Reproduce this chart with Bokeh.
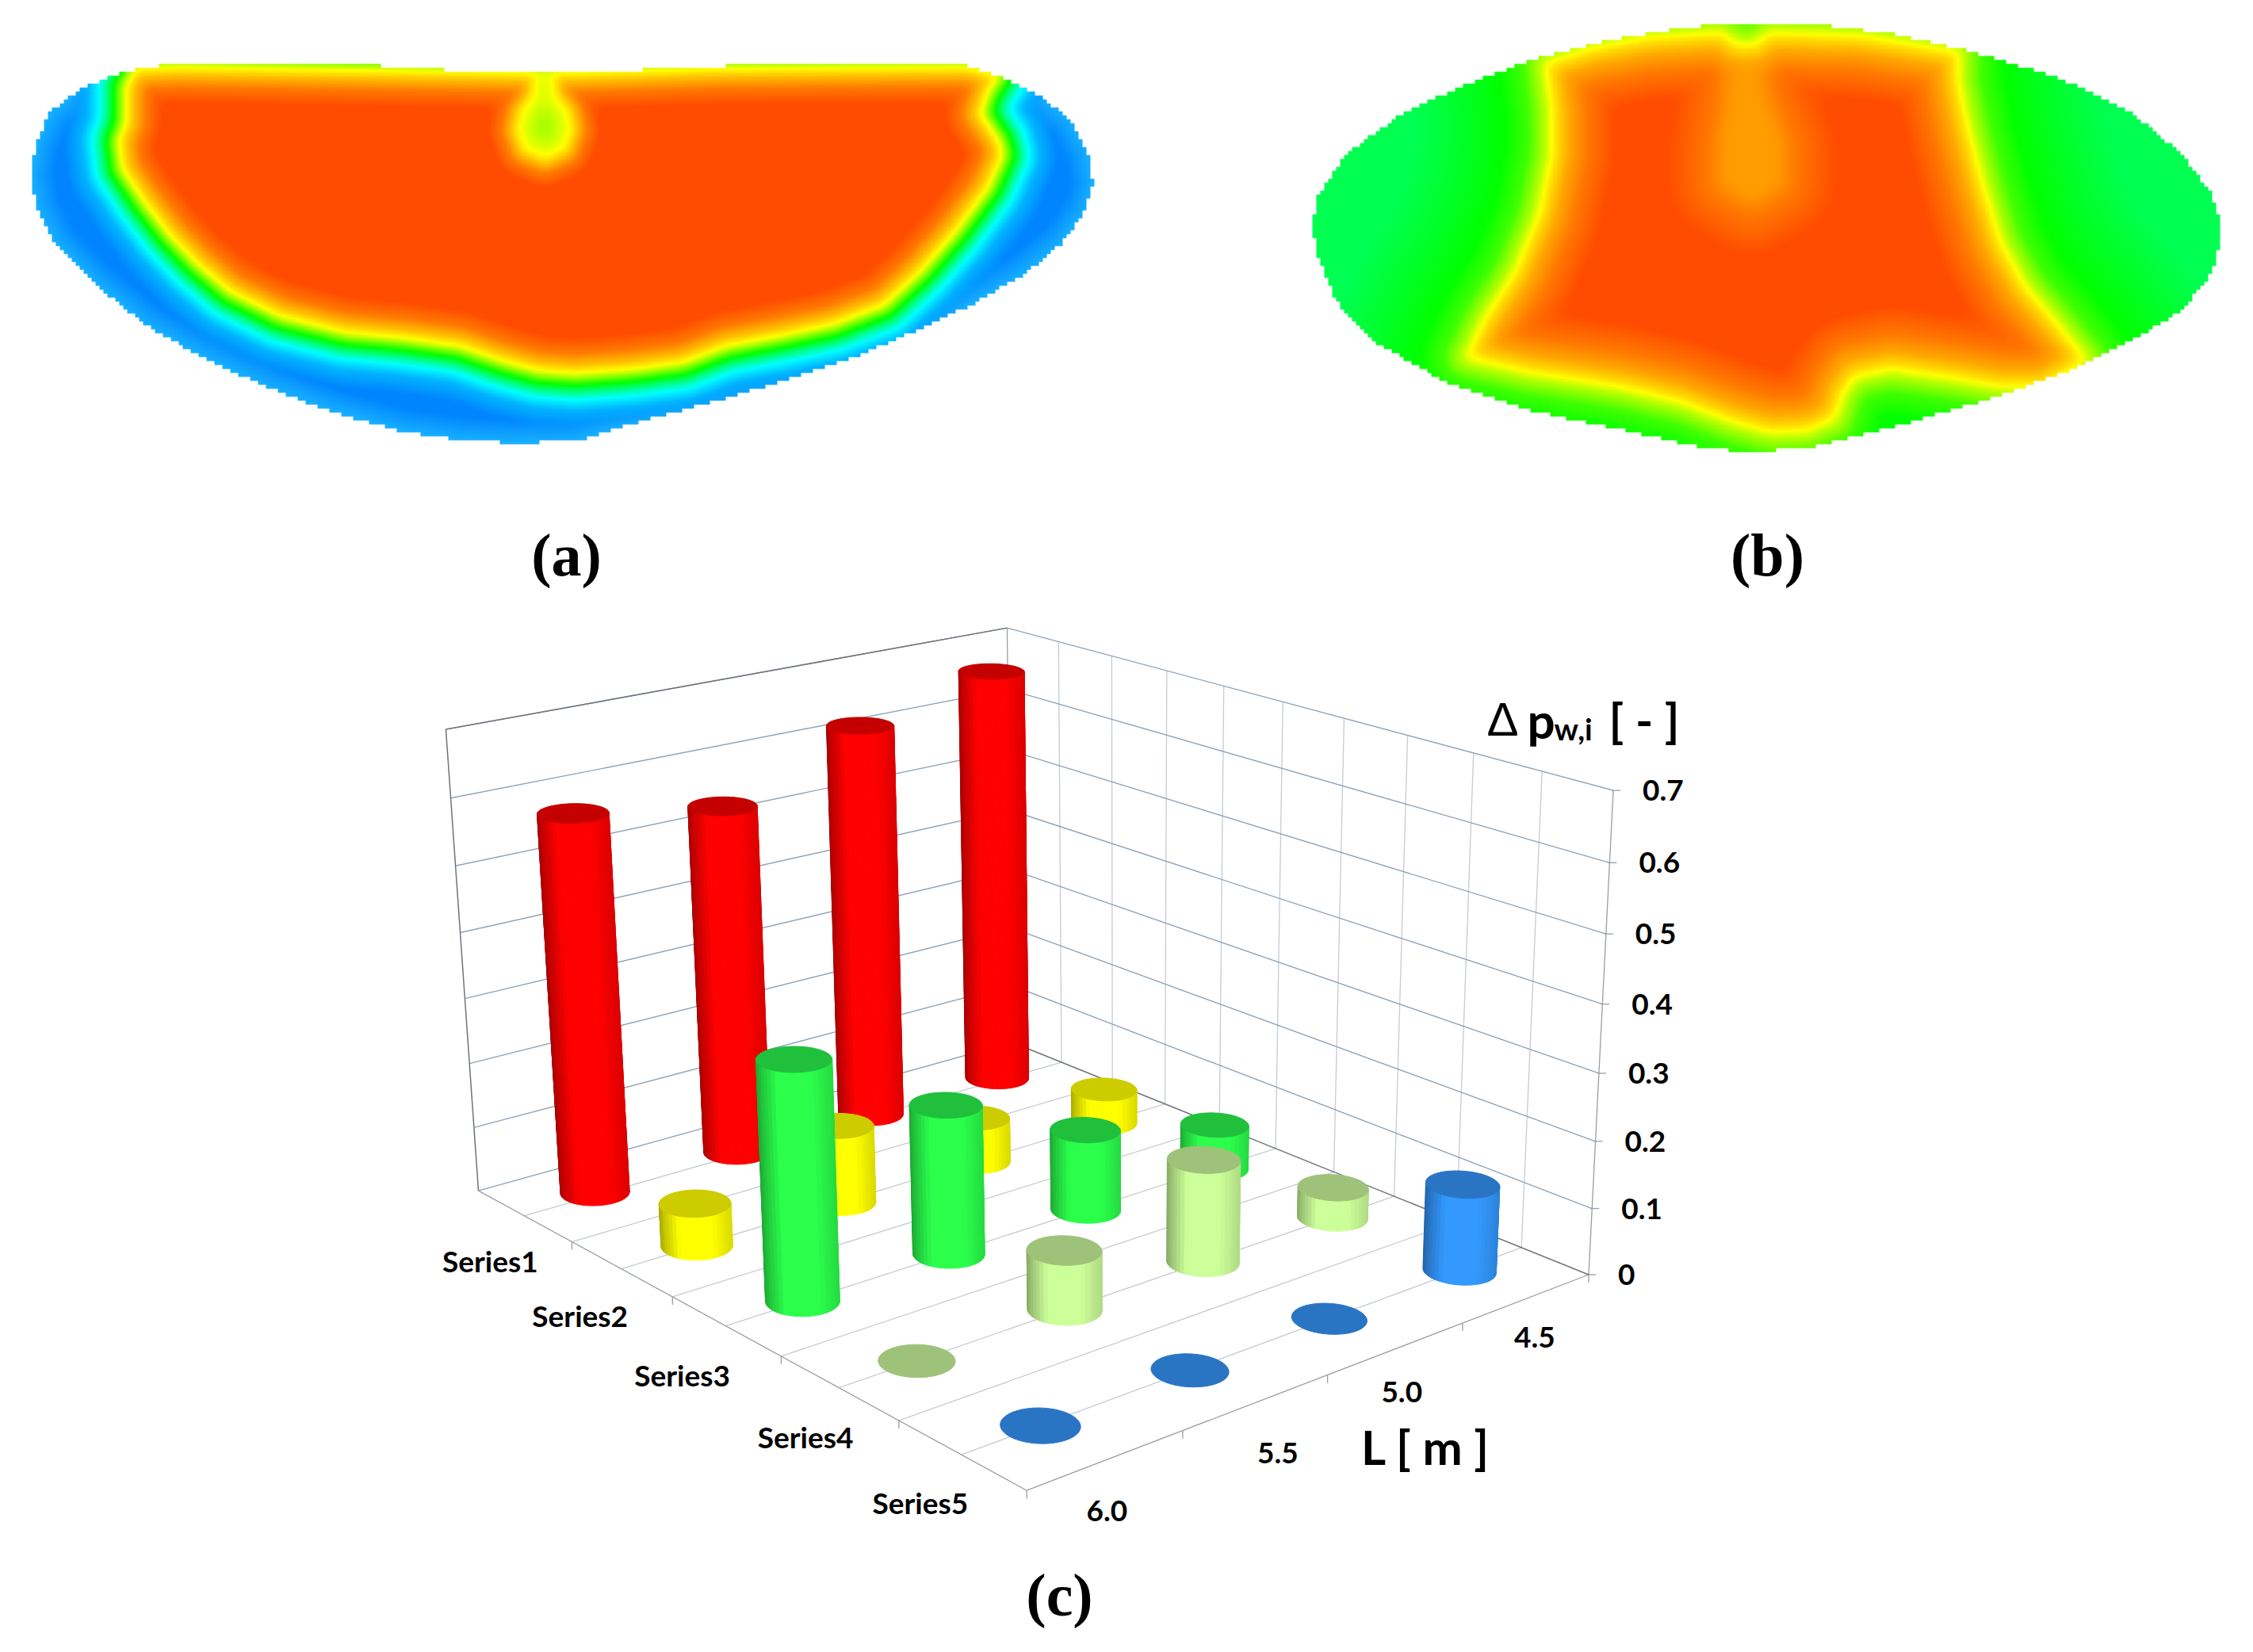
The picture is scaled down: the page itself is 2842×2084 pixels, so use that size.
import numpy as np
from bokeh.plotting import figure
from bokeh.models import ColumnDataSource
from bokeh.core.properties import value
from bokeh.embed import file_html
from bokeh.resources import INLINE

# ---------- chart values ----------
series_names = ["Series1", "Series2", "Series3", "Series4", "Series5"]
length_labels = ["6.0", "5.5", "5.0", "4.5"]
value_ticks = [0, 0.1, 0.2, 0.3, 0.4, 0.5, 0.6, 0.7]
value_tick_labels = ["0", "0.1", "0.2", "0.3", "0.4", "0.5", "0.6", "0.7"]
series1 = [0.58, 0.545, 0.625, 0.67]
series2 = [0.065, 0.12, 0.07, 0.055]
series3 = [0.352, 0.225, 0.125, 0.07]
series4 = [0.0, 0.088, 0.155, 0.047]
series5 = [0.0, 0.0, 0.0, 0.13]

# heat-map shapes (a): traced outline, yellow iso-line and central spot
a_outline = [(235,118),(500,118),(590,135),(730,150),(800,150),(1000,125),(1100,110),(1295,112),(1345,122),(1400,170),(1450,235),(1490,320),(1515,440),(1522,560),(1510,660),(1480,770),(1430,880),(1360,990),(1280,1090),(1190,1190),(1100,1270),(1000,1350),(900,1420),(800,1500),(710,1505),(640,1495),(560,1465),(460,1390),(370,1300),(280,1190),(200,1070),(130,920),(75,770),(50,640),(42,520),(50,400),(70,290),(110,210),(170,145)]
a_yellow = [(190,135),(250,130),(600,145),(730,150),(800,150),(1000,135),(1345,130),(1390,160),(1375,220),(1365,300),(1390,400),(1395,450),(1375,570),(1330,730),(1280,880),(1230,1000),(1160,1070),(1090,1110),(1010,1150),(950,1210),(880,1235),(800,1250),(750,1240),(700,1205),(640,1150),(560,1120),(480,1100),(390,1040),(320,950),(275,850),(235,740),(200,620),(170,500),(165,400),(175,330),(175,200)]
a_spot = [(745,150),(770,150),(772,235),(790,290),(795,360),(785,430),(758,462),(730,430),(720,360),(726,290),(742,235)]

# heat-map shapes (b)
b_outline = [(720,52),(865,52),(1000,85),(1130,145),(1280,240),(1400,360),(1480,500),(1530,640),(1545,760),(1530,900),(1480,1030),(1400,1130),(1290,1240),(1150,1340),(1000,1430),(860,1500),(760,1515),(680,1495),(560,1440),(400,1370),(270,1280),(150,1140),(85,1000),(55,850),(45,750),(55,640),(100,500),(200,350),(300,260),(400,180),(530,110),(650,70)]
b_yellow = [(430,190),(500,140),(600,100),(720,85),(745,125),(775,125),(800,85),(950,95),(1110,150),(1110,250),(1125,400),(1150,600),(1180,800),(1220,950),(1270,1070),(1320,1200),(1250,1290),(1180,1290),(1100,1260),(1000,1230),(940,1255),(920,1310),(905,1400),(860,1440),(800,1445),(740,1410),(650,1340),(550,1290),(400,1240),(300,1190),(330,1060),(380,900),(420,700),(440,500),(440,350)]
b_blob = [(748,130),(772,130),(780,300),(810,470),(810,590),(770,640),(730,590),(730,470),(742,300)]

# ---------- page ----------
W, H = 2826, 2064
p = figure(width=W, height=H, x_range=(0, W), y_range=(2084 - H, 2084),
           x_axis_type=None, y_axis_type=None, toolbar_location=None,
           output_backend="svg", min_border=0, outline_line_color=None)
p.grid.visible = False
fy = lambda y: 2084 - np.asarray(y, dtype=float)


def hexrgb(h):
    return np.array([int(h[i:i + 2], 16) for i in (1, 3, 5)], dtype=float)


def zoom_a(pts):
    a = np.array(pts, dtype=float)
    return np.c_[a[:, 0] * 1420 / 1568, 40 + a[:, 1] * 540 / 1568]


def zoom_b(pts):
    a = np.array(pts, dtype=float)
    return np.c_[1620 + a[:, 0] * 1200 / 1568, 10 + a[:, 1] * 580 / 1568]


def inside(poly, X, Y):
    res = np.zeros(X.shape, dtype=bool)
    n = len(poly)
    for i in range(n):
        x1, y1 = poly[i]
        x2, y2 = poly[(i + 1) % n]
        if y1 == y2:
            continue
        c = ((y1 > Y) != (y2 > Y)) & (X < (x2 - x1) * (Y - y1) / (y2 - y1) + x1)
        res ^= c
    return res


def signed(poly, X, Y):
    best = np.full(X.shape, 1e12)
    n = len(poly)
    for i in range(n):
        ax, ay = poly[i]
        bx, by = poly[(i + 1) % n]
        dx, dy = bx - ax, by - ay
        t = np.clip(((X - ax) * dx + (Y - ay) * dy) / (dx * dx + dy * dy), 0, 1)
        best = np.minimum(best, (X - ax - t * dx) ** 2 + (Y - ay - t * dy) ** 2)
    d = np.sqrt(best)
    return np.where(inside(poly, X, Y), d, -d)


def blur(a, k=2):
    b = a.copy()
    for axis in (0, 1):
        acc = np.zeros_like(b)
        for s in range(-k, k + 1):
            acc += np.roll(b, s, axis=axis)
        b = acc / (2 * k + 1)
    return b


def ramp(d, stops):
    xs = [s[0] for s in stops]
    cols = np.array([hexrgb(s[1]) for s in stops])
    return np.dstack([np.interp(d, xs, cols[:, c]) for c in range(3)])


def paint(rgb, mask, x0, y0, step):
    h, w = mask.shape
    c = np.clip(rgb, 0, 255).astype(np.uint32)
    im = (c[..., 0] | (c[..., 1] << 8) | (c[..., 2] << 16) | (np.uint32(255) << 24))
    im = np.where(mask, im, 0).astype(np.uint32)
    # row 0 is the lowest row on the page
    p.image_rgba(image=[im[::-1]], x=[x0], y=[float(fy(y0 + h * step))], dw=[w * step], dh=[h * step])


STEP, BLOCK = 2.5, 5

# ---- map (a)
x0, y0 = 30, 70
xs = x0 + (np.arange(546) + 0.5) * STEP
ys = y0 + (np.arange(202) + 0.5) * STEP
X, Y = np.meshgrid(xs, ys)
Xb = np.floor(X / BLOCK) * BLOCK + BLOCK / 2
Yb = np.floor(Y / BLOCK) * BLOCK + BLOCK / 2
out = zoom_a(a_outline)
mask = inside(out, Xb, Yb)
d = signed(zoom_a(a_yellow), X, Y)
ds = signed(zoom_a(a_spot), X, Y)
d = np.minimum(d, np.where(ds > 0, -ds * 0.2, -ds * 1.2))
d = blur(d, 3)
rgb = ramp(d, [(-200, "#0080ff"), (-70, "#0086ff"), (-48, "#00b4ff"), (-34, "#00ffff"), (-24, "#00ff80"),
               (-16, "#00ff00"), (-8, "#80ff00"), (0, "#ffff00"), (10, "#ffc000"), (25, "#ff7a00"), (45, "#ff4c00"), (400, "#ff4c00")])
dout = signed(out, X, Y)
t = (np.clip(1 - dout / 30, 0, 1) * np.clip((-d - 50) / 20, 0, 1))[..., None]
rgb = rgb * (1 - t) + hexrgb("#18b0ff") * t
paint(rgb, mask, x0, y0, STEP)

# ---- map (b)
x0, y0 = 1650, 20
xs = x0 + (np.arange(468) + 0.5) * STEP
ys = y0 + (np.arange(228) + 0.5) * STEP
X, Y = np.meshgrid(xs, ys)
Xb = np.floor(X / BLOCK) * BLOCK + BLOCK / 2
Yb = np.floor(Y / BLOCK) * BLOCK + BLOCK / 2
out = zoom_b(b_outline)
mask = inside(out, Xb, Yb)
d = signed(zoom_b(b_yellow), X, Y)
db = signed(zoom_b(b_blob), X, Y)
d = np.minimum(d, 27 + np.maximum(-db, 0) * 0.7)
d = blur(d, 4)
rgb = ramp(d, [(-170, "#00ff50"), (-100, "#00ff20"), (-60, "#00ff00"), (-30, "#40ff00"), (-10, "#b0ff00"),
               (0, "#ffff00"), (8, "#ffd800"), (22, "#ffa800"), (45, "#ff7800"), (80, "#ff4c00"), (400, "#ff4c00")])
paint(rgb, mask, x0, y0, STEP)

# ---------- 3-D projection of the cylinder chart ----------
# corners of the plot box: (u: along series, v: along length, w: height share)
box_3d = [(0, 0, 0), (1, 0, 0), (1, 1, 0), (0, 1, 0), (0, 0, 1), (0, 1, 1), (1, 1, 1)]
box_px = [(597, 1500), (1295, 1881), (1998, 1606), (1286, 1316), (568, 920), (1260, 791), (2040, 997)]
A = []
for (u, v, w), (x, y) in zip(box_3d, box_px):
    A.append([u, v, w, 1, 0, 0, 0, 0, -x * u, -x * v, -x * w, -x])
    A.append([0, 0, 0, 0, u, v, w, 1, -y * u, -y * v, -y * w, -y])
M = np.linalg.svd(np.array(A))[2][-1].reshape(3, 4)
VMAX = 0.7


def proj(u, v, val=0.0):
    q = M @ np.array([u, v, val / VMAX, 1.0])
    return q[0] / q[2], q[1] / q[2]


def seg(a, b, bucket):
    bucket[0].append([a[0], b[0]])
    bucket[1].append([float(fy(a[1])), float(fy(b[1]))])


grid_h, grid_v, edge, dark = ([], []), ([], []), ([], []), ([], [])
for val in value_ticks[1:]:
    seg(proj(0, 0, val), proj(0, 1, val), grid_h)
    seg(proj(0, 1, val), proj(1, 1, val), grid_h)
seg(proj(0, 0, 0), proj(0, 1, 0), grid_h)
for k in range(1, 10):
    seg(proj(k / 10, 1, 0), proj(k / 10, 1, VMAX), grid_v)
    seg(proj(k / 10, 0, 0), proj(k / 10, 1, 0), grid_v)
seg(proj(0, 0, 0), proj(0, 0, VMAX), dark)
seg(proj(0, 0, VMAX), proj(0, 1, VMAX), dark)
seg(proj(0, 1, 0), proj(0, 1, VMAX), edge)
seg(proj(1, 1, 0), proj(1, 1, VMAX), edge)
seg(proj(0, 1, 0), proj(1, 1, 0), dark)
seg(proj(0, 0, 0), proj(1, 0, 0), edge)
seg(proj(1, 0, 0), proj(1, 1, 0), edge)
for k in range(1, 6):
    a = proj(k / 5, 0, 0)
    seg(a, (a[0], a[1] + 10), edge)
for k in range(1, 5):
    a = proj(1, k / 4, 0)
    seg(a, (a[0], a[1] + 10), edge)
for val in value_ticks:
    a = proj(1, 1, val)
    seg((a[0] - 2, a[1]), (a[0] + 9, a[1]), edge)

p.multi_line(grid_v[0], grid_v[1], line_color="#c4ccd4", line_width=1.3)
p.multi_line(grid_h[0], grid_h[1], line_color="#8fa3b8", line_width=1.4)
p.multi_line(edge[0], edge[1], line_color="#9a9ea3", line_width=1.3)
p.multi_line(dark[0], dark[1], line_color="#6f7479", line_width=1.5)

# ---------- cylinders ----------
RU, RV = 0.0415, 0.0485
table = [series1, series2, series3, series4, series5]
side_cols = ["#ff0000", "#ffff00", "#2bff4c", "#ccff99", "#3399ff"]
top_cols = ["#c40000", "#cccc00", "#20c03c", "#9fc27a", "#2a74c4"]
u_nudge = [-0.008, 0, 0, 0, 0]
ANG = np.linspace(0, 2 * np.pi, 49)
qx, qy, qc = [], [], []


def rgbhex(c):
    return "#%02x%02x%02x" % tuple(int(round(min(255, max(0, q)))) for q in c)


for i in range(5):
    uc = (i + 0.5) / 5 + u_nudge[i]
    for j in range(3, -1, -1):
        vc = (j + 0.5) / 4
        val = table[i][j]
        base = [proj(uc + RU * np.cos(a), vc + RV * np.sin(a), 0) for a in ANG]
        top = [proj(uc + RU * np.cos(a), vc + RV * np.sin(a), val) for a in ANG]
        cy = proj(uc, vc, 0)[1]
        if val > 0:
            bxs = [b[0] for b in base]
            lo, hi = min(bxs), max(bxs)
            for k in range(len(ANG) - 1):
                mid = (base[k][1] + base[k + 1][1]) / 2
                if mid < cy - 2:
                    continue
                s = ((base[k][0] + base[k + 1][0]) / 2 - lo) / (hi - lo)
                f = np.interp(s, [0, 0.08, 0.28, 0.72, 1], [0.66, 0.78, 1.0, 1.0, 0.86])
                col = rgbhex(hexrgb(side_cols[i]) * f)
                qx.append([base[k][0], base[k + 1][0], top[k + 1][0], top[k][0]])
                qy.append(list(fy([base[k][1], base[k + 1][1], top[k + 1][1], top[k][1]])))
                qc.append(col)
        qx.append([t[0] for t in top])
        qy.append(list(fy([t[1] for t in top])))
        qc.append(top_cols[i])

p.patches("x", "y", source=ColumnDataSource(dict(x=qx, y=qy, c=qc)), fill_color="c", line_color="c", line_width=1)

# ---------- texts ----------
FONT = value("Lato")


def label(xs, ys, texts, size, align="center", font=FONT, style="bold", baseline="middle"):
    p.text(x=list(xs), y=list(fy(ys)), text=list(texts), text_font=font, text_font_style=style,
           text_font_size=size, text_align=align, text_baseline=baseline, text_color="#000000")


series_off = [(-43, 57), (-52, 59), (-55, 62), (-42, 62), (-52, 60)]
pts = [proj((i + 0.5) / 5, 0, 0) for i in range(5)]
label([a[0] + o[0] for a, o in zip(pts, series_off)], [a[1] + o[1] for a, o in zip(pts, series_off)], series_names, "37px")
length_off = [(1, 64), (27, 64), (7, 55), (10, 49)]
pts = [proj(1, (j + 0.5) / 4, 0) for j in range(4)]
label([a[0] + o[0] for a, o in zip(pts, length_off)], [a[1] + o[1] for a, o in zip(pts, length_off)], length_labels, "37px")
pts = [proj(1, 1, val) for val in value_ticks]
label([a[0] + 37 for a in pts], [a[1] for a in pts], value_tick_labels, "37px", align="left")

label([1798], [1824], ["L [ m ]"], "60px")
label([1875], [907], ["Δ"], "60px", align="left", font=value("Liberation Sans"), style="normal", baseline="alphabetic")
label([1926], [907], ["p"], "62px", align="left", baseline="alphabetic")
label([1960], [918], ["w,i"], "38px", align="left", baseline="alphabetic")
label([2029], [907], ["[ - ]"], "60px", align="left", baseline="alphabetic")

SERIF = value("Liberation Serif")
label([714, 2229, 1336], [699, 699, 2011], ["(a)", "(b)", "(c)"], "76px", font=SERIF)

open("out.html", "w").write(file_html(p, INLINE))
